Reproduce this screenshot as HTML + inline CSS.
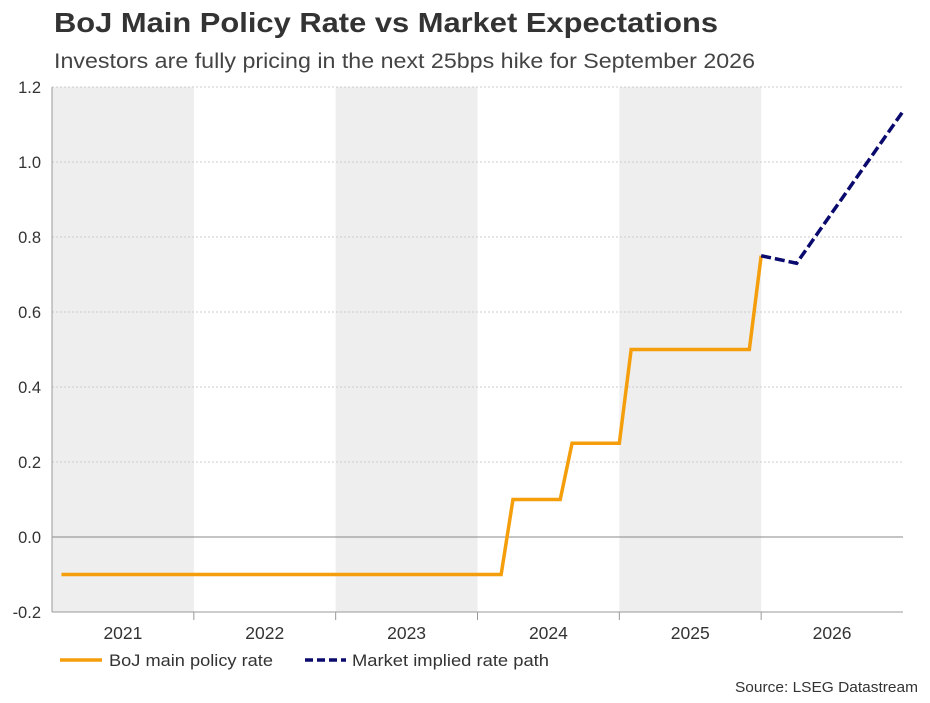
<!DOCTYPE html>
<html><head><meta charset="utf-8"><style>
body{margin:0;background:#fff;width:930px;height:698px;overflow:hidden;font-family:"Liberation Sans",sans-serif}
</style></head><body>
<svg width="930" height="698">
<text x="54" y="32" font-size="28" font-weight="bold" fill="#333" textLength="664" lengthAdjust="spacingAndGlyphs">BoJ Main Policy Rate vs Market Expectations</text>
<text x="54" y="68" font-size="21" fill="#444" textLength="701" lengthAdjust="spacingAndGlyphs">Investors are fully pricing in the next 25bps hike for September 2026</text>
<g id="bands"></g><g id="grid"></g><g id="series"></g><g id="axes"></g>
<g>
<line x1="60" y1="660" x2="102" y2="660" stroke="#f59e0b" stroke-width="3.5"/>
<text x="109" y="666" font-size="17" fill="#333" textLength="164" lengthAdjust="spacingAndGlyphs">BoJ main policy rate</text>
<line x1="305" y1="660" x2="346" y2="660" stroke="#0a0a6e" stroke-width="3.5" stroke-dasharray="8,4"/>
<text x="352" y="666" font-size="17" fill="#333" textLength="197" lengthAdjust="spacingAndGlyphs">Market implied rate path</text>
</g>
<text x="918" y="692" font-size="15" fill="#333" text-anchor="end" textLength="183" lengthAdjust="spacingAndGlyphs">Source: LSEG Datastream</text>
</svg>
<script>
const years=["2021","2022","2023","2024","2025","2026"];
const yTicks=[-0.2,0,0.2,0.4,0.6,0.8,1.0,1.2];
const policyMonths=[0.8,38,39,43,44,48,49,59,60];
const policyValues=[-0.1,-0.1,0.1,0.1,0.25,0.25,0.5,0.5,0.75];
const marketMonths=[60,63,72];
const marketValues=[0.75,0.73,1.135];
const X0=52,X1=903,Y0=612,Y1=87,yMin=-0.2,yMax=1.2,nMonths=72;
const xs=m=>X0+(X1-X0)*m/nMonths;
const ys=v=>Y0-(Y0-Y1)*(v-yMin)/(yMax-yMin);
const NS="http://www.w3.org/2000/svg";
function mk(t,a,p){const e=document.createElementNS(NS,t);for(const k in a)e.setAttribute(k,a[k]);document.getElementById(p).appendChild(e);return e;}
years.forEach((y,i)=>{
 if(i%2===0){const r=mk("rect",{x:xs(i*12),y:Y1,width:xs(12)-xs(0),height:Y0-Y1,fill:"#eeeeee"},"bands");
 
 }
 const t=mk("text",{x:xs(i*12+6),y:Y0+27,"font-size":17.5,fill:"#333","text-anchor":"middle"},"axes");t.textContent=y;
 
 
 if(i>0){mk("line",{x1:xs(i*12),x2:xs(i*12),y1:Y0,y2:Y0+8,stroke:"#999"},"axes");}
});
yTicks.forEach(v=>{
 const g=mk("line",{x1:X0,x2:X1,y1:ys(v),y2:ys(v),stroke:v===0?"#888":"#ccc","stroke-dasharray":v===0?"":"2,2"},"grid");
 
 
 const t=mk("text",{x:X0-11,y:ys(v)+6,"font-size":16.5,fill:"#333","text-anchor":"end"},"axes");t.textContent=v.toFixed(1);
 
 
});
mk("line",{x1:X0,x2:X1,y1:Y0,y2:Y0,stroke:"#999"},"axes");
mk("line",{x1:X0,x2:X0,y1:Y1,y2:Y0,stroke:"#999"},"axes");
const p1=mk("polyline",{points:policyMonths.map((m,i)=>xs(m)+","+ys(policyValues[i])).join(" "),fill:"none",stroke:"#f59e0b","stroke-width":3.5},"series");


const p2=mk("polyline",{points:marketMonths.map((m,i)=>xs(m)+","+ys(marketValues[i])).join(" "),fill:"none",stroke:"#0a0a6e","stroke-width":3.5,"stroke-dasharray":"10,4"},"series");


</script>
</body></html>
